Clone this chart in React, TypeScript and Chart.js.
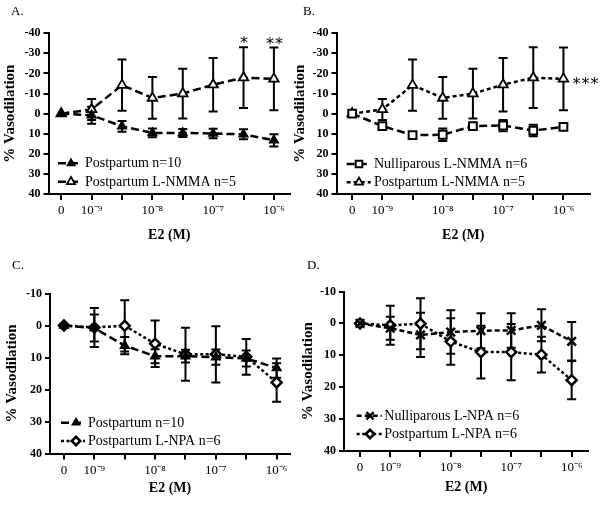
import React, { useEffect, useRef } from 'react';
import { Chart, registerables } from 'chart.js';
import { drawPoint } from 'chart.js/helpers';

Chart.register(...registerables);

// ---------- data ----------
const doseLabels = ['0', '10⁻⁹', '', '10⁻⁸', '', '10⁻⁷', '', '10⁻⁶'];
const dosePositions = [0, 1, 2, 3, 4, 5, 6, 7];

// Postpartum n=10
const ppMean = [0, 0.8, 6.3, 9.6, 9.6, 9.9, 10.3, 13.3];
const ppSem = [0, 4.2, 2.7, 2.2, 2.0, 2.4, 2.5, 3.0];
// Postpartum L-NMMA n=5
const ppNmmaMean = [0, -2.1, -14.2, -7.8, -10.0, -14.4, -17.9, -17.3];
const ppNmmaSem = [0, 5.2, 12.7, 10.4, 12.4, 13.3, 15.1, 15.6];
// Nulliparous L-NMMA n=6
const nulNmmaMean = [0, 6.2, 10.7, 10.5, 6.2, 5.9, 8.4, 6.6];
const nulNmmaSem = [0, 1.2, 1.4, 3.1, 1.4, 2.8, 2.9, 1.2];
// Postpartum L-NPA n=6
const ppNpaMean = [0, 0.6, 0.1, 5.7, 9.0, 9.0, 9.8, 17.8];
const ppNpaSem = [0, 6.1, 8.0, 7.3, 8.3, 8.8, 5.6, 6.0];
// Nulliparous L-NPA n=6
const nulNpaMean = [0, 1.5, 3.6, 2.7, 2.3, 2.2, 0.6, 5.6];
const nulNpaSem = [0, 3.6, 6.9, 6.8, 5.5, 5.4, 5.0, 6.0];

const FONT = "'Liberation Serif', 'Times New Roman', serif";

type MarkerStyle = { pointStyle: any; radius: number; fill: string; borderWidth: number };
const markers: Record<string, MarkerStyle> = {
  filledTri: { pointStyle: 'triangle', radius: 5, fill: '#000', borderWidth: 1.5 },
  openTri: { pointStyle: 'triangle', radius: 5.5, fill: '#fff', borderWidth: 1.8 },
  openSquare: { pointStyle: 'rect', radius: 5.5, fill: '#fff', borderWidth: 2 },
  openDiamond: { pointStyle: 'rectRot', radius: 5, fill: '#fff', borderWidth: 2.5 },
  cross: { pointStyle: 'crossRot', radius: 6, fill: '#000', borderWidth: 2.5 },
};

type Series = { label: string; mean: number[]; sem: number[]; marker: string; dash: number[] };
type Mark = { at: number; value: number; text: string; place: 'above' | 'right' };

type Panel = {
  key: string;
  title: string;
  box: { left: number; top: number; width: number; height: number };
  area: { left: number; top: number; right: number; bottom: number };
  xAxisH: number;
  xMin: number;
  xMax: number;
  yMin: number;
  yMax: number;
  titlePos: { x: number; y: number };
  yTitlePad: number;
  legend: { x1: number; x2: number; mx: number; tx: number; rows: number[] };
  series: Series[];
  marks: Mark[];
};

const panels: Panel[] = [
  {
    key: 'A',
    title: 'A.',
    box: { left: 0, top: 0, width: 300, height: 253 },
    area: { left: 48.5, top: 33.3, right: 290, bottom: 194 },
    xAxisH: 50,
    xMin: -0.42,
    xMax: 7.53,
    yMin: -40,
    yMax: 40,
    titlePos: { x: 11, y: 12 },
    yTitlePad: 1,
    legend: { x1: 58, x2: 82, mx: 71, tx: 85, rows: [163.3, 181.7] },
    series: [
      { label: 'Postpartum n=10', mean: ppMean, sem: ppSem, marker: 'filledTri', dash: [8, 4] },
      { label: 'Postpartum L-NMMA n=5', mean: ppNmmaMean, sem: ppNmmaSem, marker: 'openTri', dash: [8, 4] },
    ],
    marks: [
      { at: 6, value: ppNmmaMean[6] - ppNmmaSem[6], text: '*', place: 'above' },
      { at: 7, value: ppNmmaMean[7] - ppNmmaSem[7], text: '**', place: 'above' },
    ],
  },
  {
    key: 'B',
    title: 'B.',
    box: { left: 290, top: 0, width: 310, height: 253 },
    area: { left: 46.5, top: 33.3, right: 300, bottom: 194 },
    xAxisH: 50,
    xMin: -0.52,
    xMax: 7.88,
    yMin: -40,
    yMax: 40,
    titlePos: { x: 13, y: 12 },
    yTitlePad: 1,
    legend: { x1: 56.7, x2: 80.7, mx: 69, tx: 84, rows: [164, 182.3] },
    series: [
      { label: 'Nulliparous L-NMMA n=6', mean: nulNmmaMean, sem: nulNmmaSem, marker: 'openSquare', dash: [8, 4] },
      { label: 'Postpartum L-NMMA n=5', mean: ppNmmaMean, sem: ppNmmaSem, marker: 'openTri', dash: [4, 3] },
    ],
    marks: [{ at: 7, value: ppNmmaMean[7], text: '***', place: 'right' }],
  },
  {
    key: 'C',
    title: 'C.',
    box: { left: 0, top: 253, width: 300, height: 253 },
    area: { left: 50, top: 40.5, right: 290, bottom: 200.5 },
    xAxisH: 43,
    xMin: -0.46,
    xMax: 7.44,
    yMin: -10,
    yMax: 40,
    titlePos: { x: 12, y: 13 },
    yTitlePad: 3,
    legend: { x1: 61, x2: 85, mx: 76, tx: 88, rows: [169.7, 188] },
    series: [
      { label: 'Postpartum n=10', mean: ppMean, sem: ppSem, marker: 'filledTri', dash: [8, 4] },
      { label: 'Postpartum L-NPA n=6', mean: ppNpaMean, sem: ppNpaSem, marker: 'openDiamond', dash: [3, 2.5] },
    ],
    marks: [],
  },
  {
    key: 'D',
    title: 'D.',
    box: { left: 298, top: 253, width: 302, height: 253 },
    area: { left: 46, top: 38.5, right: 290.3, bottom: 198 },
    xAxisH: 45,
    xMin: -0.53,
    xMax: 7.55,
    yMin: -10,
    yMax: 40,
    titlePos: { x: 9, y: 13 },
    yTitlePad: 1.5,
    legend: { x1: 58.7, x2: 83.7, mx: 72, tx: 86.3, rows: [162.7, 181] },
    series: [
      { label: 'Nulliparous L-NPA n=6', mean: nulNpaMean, sem: nulNpaSem, marker: 'cross', dash: [5, 3] },
      { label: 'Postpartum L-NPA n=6', mean: ppNpaMean, sem: ppNpaSem, marker: 'openDiamond', dash: [3, 2.5] },
    ],
    marks: [],
  },
];

function makeDecorPlugin(panel: Panel) {
  return {
    id: 'decor' + panel.key,
    beforeDatasetsDraw(chart: any) {
      const ctx: CanvasRenderingContext2D = chart.ctx;
      const ys = chart.scales.y;
      ctx.save();
      ctx.strokeStyle = '#000';
      ctx.lineWidth = 2;
      ctx.setLineDash([]);
      panel.series.forEach((s, i) => {
        const meta = chart.getDatasetMeta(i);
        s.mean.forEach((m, j) => {
          const e = s.sem[j];
          if (!e) return;
          const x = meta.data[j].x;
          const y1 = ys.getPixelForValue(m - e);
          const y2 = ys.getPixelForValue(m + e);
          ctx.beginPath();
          ctx.moveTo(x, y1);
          ctx.lineTo(x, y2);
          ctx.moveTo(x - 4.5, y1);
          ctx.lineTo(x + 4.5, y1);
          ctx.moveTo(x - 4.5, y2);
          ctx.lineTo(x + 4.5, y2);
          ctx.stroke();
        });
      });
      ctx.restore();
    },
    afterDraw(chart: any) {
      const ctx: CanvasRenderingContext2D = chart.ctx;
      const xs = chart.scales.x;
      const ys = chart.scales.y;
      ctx.save();
      // panel title
      ctx.fillStyle = '#000';
      ctx.font = `13px ${FONT}`;
      ctx.textAlign = 'left';
      ctx.textBaseline = 'middle';
      ctx.fillText(panel.title, panel.titlePos.x, panel.titlePos.y);

      // legend
      const lg = panel.legend;
      panel.series.forEach((s, i) => {
        const y = lg.rows[i];
        const mk = markers[s.marker];
        ctx.strokeStyle = '#000';
        ctx.lineWidth = 2.5;
        ctx.setLineDash(s.dash);
        ctx.beginPath();
        ctx.moveTo(lg.x1, y);
        ctx.lineTo(lg.x2, y);
        ctx.stroke();
        ctx.setLineDash([]);
        ctx.fillStyle = mk.fill;
        ctx.lineWidth = mk.borderWidth;
        drawPoint(ctx, { pointStyle: mk.pointStyle, radius: mk.radius * 0.85, borderWidth: mk.borderWidth, rotation: 0 } as any, lg.mx, y);
        ctx.fillStyle = '#000';
        ctx.font = `14px ${FONT}`;
        ctx.textAlign = 'left';
        ctx.textBaseline = 'middle';
        ctx.fillText(s.label, lg.tx, y + 0.5);
      });

      // significance marks
      ctx.fillStyle = '#000';
      ctx.font = `16px 'DejaVu Sans', 'Liberation Sans', sans-serif`;
      ctx.textBaseline = 'alphabetic';
      (ctx as any).letterSpacing = '1px';
      panel.marks.forEach((m) => {
        const x = xs.getPixelForValue(m.at);
        const y = ys.getPixelForValue(m.value);
        if (m.place === 'above') {
          ctx.textAlign = 'center';
          ctx.fillText(m.text, x + 1, y + 1);
        } else {
          ctx.textAlign = 'left';
          ctx.fillText(m.text, x + 9, y + 10);
        }
      });
      ctx.restore();
    },
  };
}

function PanelChart({ panel }: { panel: Panel }) {
  const ref = useRef<HTMLCanvasElement>(null);
  useEffect(() => {
    const canvas = ref.current;
    if (!canvas) return;
    const { area, box } = panel;
    const datasets = panel.series.map((s) => {
      const mk = markers[s.marker];
      return {
        label: s.label,
        data: dosePositions.map((x, j) => ({ x, y: s.mean[j] })),
        borderColor: '#000',
        borderWidth: 2.5,
        borderDash: s.dash,
        tension: 0,
        fill: false,
        pointStyle: mk.pointStyle,
        pointRadius: mk.radius,
        pointBackgroundColor: mk.fill,
        pointBorderColor: '#000',
        pointBorderWidth: mk.borderWidth,
        clip: false,
      };
    });
    const chart = new Chart(canvas, {
      type: 'line',
      data: { datasets },
      options: {
        responsive: false,
        animation: false,
        devicePixelRatio: 1,
        events: [],
        layout: {
          padding: {
            left: 0,
            top: area.top,
            right: box.width - area.right,
            bottom: box.height - area.bottom - panel.xAxisH,
          },
        },
        plugins: { legend: { display: false }, tooltip: { enabled: false }, title: { display: false } },
        scales: {
          x: {
            type: 'linear',
            min: panel.xMin,
            max: panel.xMax,
            afterBuildTicks: (s: any) => {
              s.ticks = dosePositions.map((v) => ({ value: v }));
            },
            afterFit: (s: any) => {
              s.height = panel.xAxisH;
            },
            ticks: {
              autoSkip: false,
              maxRotation: 0,
              minRotation: 0,
              padding: 3,
              color: '#000',
              font: { family: FONT, size: 13 },
              callback: (v: any) => doseLabels[Math.round(Number(v))] ?? '',
            },
            grid: { drawOnChartArea: false, drawTicks: true, tickLength: 6, color: '#000', lineWidth: 2 },
            border: { display: true, color: '#000', width: 2 },
            title: {
              display: true,
              text: 'E2 (M)',
              color: '#000',
              font: { family: FONT, size: 14, weight: 'bold' },
              padding: { top: 0, bottom: 0 },
            },
          },
          y: {
            type: 'linear',
            reverse: true,
            min: panel.yMin,
            max: panel.yMax,
            afterFit: (s: any) => {
              s.width = area.left;
            },
            ticks: {
              stepSize: 10,
              padding: 3,
              color: '#000',
              font: { family: FONT, size: 12, weight: 'bold' },
            },
            grid: { drawOnChartArea: false, drawTicks: true, tickLength: 5, color: '#000', lineWidth: 2 },
            border: { display: true, color: '#000', width: 2 },
            title: {
              display: true,
              text: '% Vasodilation',
              color: '#000',
              font: { family: FONT, size: 15, weight: 'bold' },
              padding: { top: panel.yTitlePad, bottom: 0 },
            },
          },
        },
      } as any,
      plugins: [makeDecorPlugin(panel)],
    });
    return () => chart.destroy();
  }, [panel]);
  return (
    <canvas
      ref={ref}
      width={panel.box.width}
      height={panel.box.height}
      style={{
        position: 'absolute',
        left: panel.box.left,
        top: panel.box.top,
        width: panel.box.width,
        height: panel.box.height,
      }}
    />
  );
}

export default function App() {
  return (
    <div style={{ position: 'absolute', left: 0, top: 0, width: 600, height: 506, background: '#fff', overflow: 'hidden' }}>
      {panels.map((p) => (
        <PanelChart key={p.key} panel={p} />
      ))}
    </div>
  );
}
